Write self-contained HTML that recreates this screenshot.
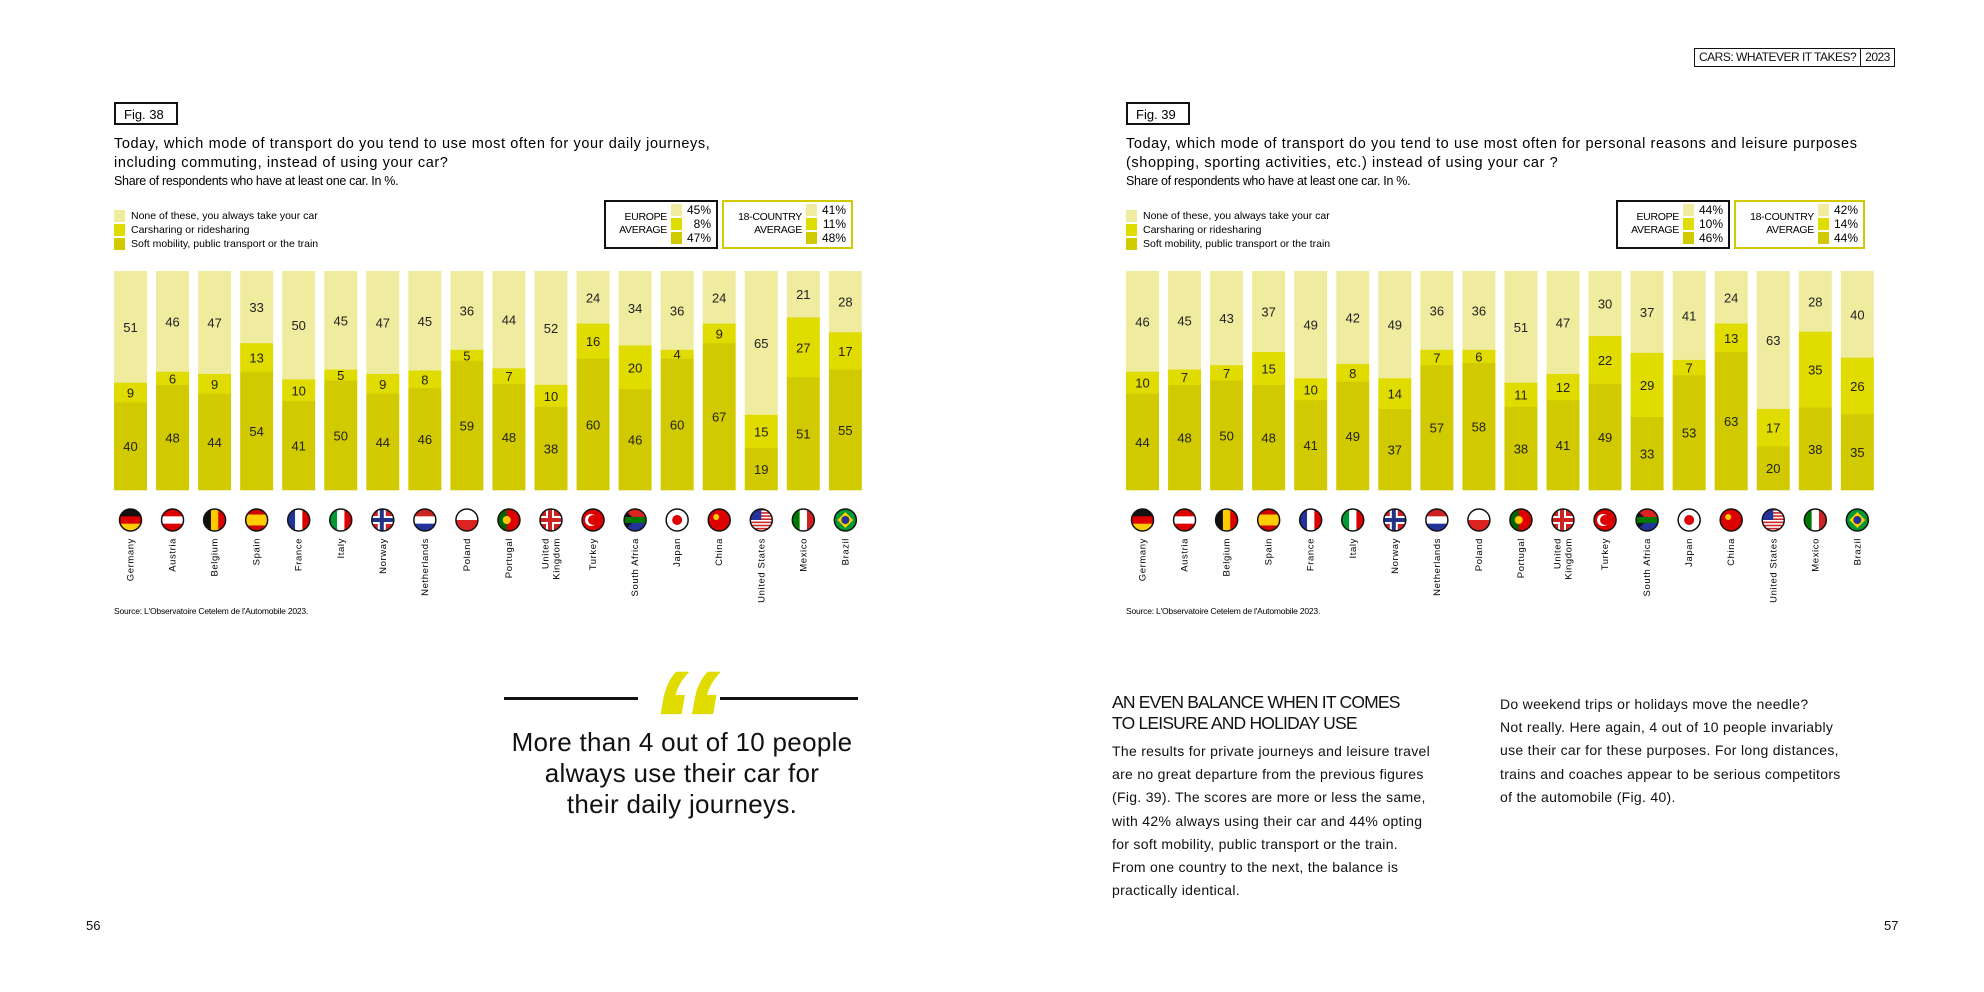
<!DOCTYPE html>
<html><head><meta charset="utf-8">
<style>
body{margin:0;width:1984px;height:992px;background:#fff;position:relative;overflow:hidden;font-family:"Liberation Sans",sans-serif;color:#111}
.abs{position:absolute}
.quote{font-size:26px;line-height:31px;text-align:center;letter-spacing:0.3px}
.head{font-size:17.5px;line-height:21px;letter-spacing:-0.8px;text-transform:uppercase}
.body{font-size:14px;line-height:23.2px;letter-spacing:0.3px;white-space:nowrap}
</style></head><body>
<div class="abs" style="left:1694px;top:48px;height:17px;border:1.5px solid #111;font-size:12px;line-height:17px;letter-spacing:-0.5px;display:flex">
<span style="padding:0 4px;border-right:1.5px solid #111">CARS: WHATEVER IT TAKES?</span><span style="padding:0 4px">2023</span></div>
<div class="abs" style="left:86px;top:918px;font-size:13px">56</div>
<div class="abs" style="left:1884px;top:918px;font-size:13px">57</div>

<svg id="chart" class="abs" style="left:0;top:0" width="1984" height="992"></svg>

<div class="abs" style="left:504px;top:697px;width:134px;height:3px;background:#111"></div>
<div class="abs" style="left:720px;top:697px;width:138px;height:3px;background:#111"></div>
<div class="abs" style="left:648px;top:648px;font-size:150px;line-height:150px;font-weight:bold;color:#e0dc00;font-family:'Liberation Sans',sans-serif;transform:skewX(-10deg)">“</div>
<div class="abs quote" style="left:482px;top:727px;width:400px">More than 4 out of 10 people<br>always use their car for<br>their daily journeys.</div>

<div class="abs head" style="left:1112px;top:692px;width:340px">An even balance when it comes<br>to leisure and holiday use</div>
<div class="abs body" style="left:1112px;top:740px">The results for private journeys and leisure travel<br>are no great departure from the previous figures<br>(Fig. 39). The scores are more or less the same,<br>with 42% always using their car and 44% opting<br>for soft mobility, public transport or the train.<br>From one country to the next, the balance is<br>practically identical.</div>
<div class="abs body" style="left:1500px;top:693px">Do weekend trips or holidays move the needle?<br>Not really. Here again, 4 out of 10 people invariably<br>use their car for these purposes. For long distances,<br>trains and coaches appear to be serious competitors<br>of the automobile (Fig. 40).</div>

<script>
const countries=["Germany","Austria","Belgium","Spain","France","Italy","Norway","Netherlands","Poland","Portugal","United Kingdom","Turkey","South Africa","Japan","China","United States","Mexico","Brazil"];
const fig38None=[51,46,47,33,50,45,47,45,36,44,52,24,34,36,24,65,21,28];
const fig38Share=[9,6,9,13,10,5,9,8,5,7,10,16,20,4,9,15,27,17];
const fig38Soft=[40,48,44,54,41,50,44,46,59,48,38,60,46,60,67,19,51,55];
const fig39None=[46,45,43,37,49,42,49,36,36,51,47,30,37,41,24,63,28,40];
const fig39Share=[10,7,7,15,10,8,14,7,6,11,12,22,29,7,13,17,35,26];
const fig39Soft=[44,48,50,48,41,49,37,57,58,38,41,49,33,53,63,20,38,35];
const fig38Europe=[45,8,47], fig38All=[41,11,48];
const fig39Europe=[44,10,46], fig39All=[42,14,44];
const C=["#efeb9f","#e1dc00","#d2ca00"];
const svg=document.getElementById('chart');
const NS="http://www.w3.org/2000/svg";
function mk(t,a,parent){const e=document.createElementNS(NS,t);for(const k in a)e.setAttribute(k,a[k]);(parent||svg).appendChild(e);return e;}
const flags={
Germany:[["h","#111","#d00","#fc0"]],Austria:[["h","#d00","#fff","#d00"]],Belgium:[["v","#111","#fc0","#d00"]],Spain:[["h3","#c00","#fc0","#c00"]],
France:[["v","#239","#fff","#d00"]],Italy:[["v","#093","#fff","#d00"]],Norway:[["cross","#c22","#fff","#238"]],Netherlands:[["h","#c22","#fff","#239"]],
Poland:[["h2","#fff","#d22"]],Portugal:[["pt","#060","#d00"]],"United Kingdom":[["cross","#c22","#fff","#c22"]],Turkey:[["tr","#d00","#fff"]],
"South Africa":[["za","#070","#fc0"]],Japan:[["jp","#fff","#d00"]],China:[["cn","#d00","#fc0"]],"United States":[["us","#c22","#fff","#239"]],
Mexico:[["v","#070","#fff","#c22"]],Brazil:[["br","#093","#fc0"]]};
let cid=0;
function drawFlag(cx,cy,r,name){
  const id='c'+(cid++);
  const d=mk('defs',{});const cp=mk('clipPath',{id:id},d);mk('circle',{cx:cx,cy:cy,r:r},cp);
  const g=mk('g',{'clip-path':'url(#'+id+')'});
  
  
  const f=flags[name][0],x=cx-r,y=cy-r,s=2*r;
  const t=f[0];
  if(t=="h"){for(let i=0;i<3;i++)mk('rect',{x:x,y:y+i*s/3,width:s,height:s/3+0.5,fill:f[i+1]},g);}
  else if(t=="v"){for(let i=0;i<3;i++)mk('rect',{x:x+i*s/3,y:y,width:s/3+0.5,height:s,fill:f[i+1]},g);}
  else if(t=="h3"){mk('rect',{x:x,y:y,width:s,height:s,fill:f[1]},g);mk('rect',{x:x,y:y+s/4,width:s,height:s/2,fill:f[2]},g);}
  else if(t=="h2"){mk('rect',{x:x,y:y,width:s,height:s,fill:f[1]},g);mk('rect',{x:x,y:cy,width:s,height:r,fill:f[2]},g);}
  else if(t=="cross"){mk('rect',{x:x,y:y,width:s,height:s,fill:f[1]},g);mk('rect',{x:x,y:cy-4,width:s,height:8,fill:f[2]},g);mk('rect',{x:cx-5,y:y,width:8,height:s,fill:f[2]},g);mk('rect',{x:x,y:cy-2,width:s,height:4,fill:f[3]},g);mk('rect',{x:cx-3,y:y,width:4,height:s,fill:f[3]},g);}
  else if(t=="pt"){mk('rect',{x:x,y:y,width:s,height:s,fill:f[2]},g);mk('rect',{x:x,y:y,width:s*0.4,height:s,fill:f[1]},g);mk('circle',{cx:x+s*0.4,cy:cy,r:4,fill:"#fc0"},g);}
  else if(t=="tr"){mk('rect',{x:x,y:y,width:s,height:s,fill:f[1]},g);mk('circle',{cx:cx-2,cy:cy,r:6,fill:f[2]},g);mk('circle',{cx:cx,cy:cy,r:5,fill:f[1]},g);}
  else if(t=="za"){mk('rect',{x:x,y:y,width:s,height:s/2,fill:"#d22"},g);mk('rect',{x:x,y:cy,width:s,height:r,fill:"#239"},g);mk('polygon',{points:`${x},${y} ${cx},${cy} ${x},${y+s} `,fill:"#111"},g);mk('rect',{x:x,y:cy-3,width:s,height:6,fill:f[1]},g);}
  else if(t=="jp"){mk('rect',{x:x,y:y,width:s,height:s,fill:f[1]},g);mk('circle',{cx:cx,cy:cy,r:5,fill:f[2]},g);}
  else if(t=="cn"){mk('rect',{x:x,y:y,width:s,height:s,fill:f[1]},g);mk('circle',{cx:cx-3,cy:cy-3,r:3,fill:f[2]},g);}
  else if(t=="us"){for(let i=0;i<7;i++)mk('rect',{x:x,y:y+i*s/7,width:s,height:s/14,fill:f[1]},g);mk('rect',{x:x,y:y,width:s/2,height:s/2,fill:f[3]},g);}
  else if(t=="br"){mk('rect',{x:x,y:y,width:s,height:s,fill:f[1]},g);mk('polygon',{points:`${cx},${y+3} ${x+s-3},${cy} ${cx},${y+s-3} ${x+3},${cy}`,fill:f[2]},g);mk('circle',{cx:cx,cy:cy,r:4,fill:"#239"},g);}
  mk('circle',{cx:cx,cy:cy,r:r,fill:'none',stroke:'#111','stroke-width':1.5});
}
function text(x,y,str,attrs){const t=mk('text',Object.assign({x:x,y:y,'font-family':'Liberation Sans, sans-serif'},attrs||{}));t.textContent=str;return t;}

function drawFigure(ox,num,titleLines,none,share,soft,eu,all){
  const L=ox+114, pitch=42.05, bw=33, top=271, bot=490, H=bot-top;
  const fx=(i)=>L+i*pitch;
  const fb=mk('rect',{x:ox+115,y:103,width:62,height:21,fill:'none',stroke:'#111','stroke-width':2});
  
  
  text(ox+124,119,'Fig. '+num,{'font-size':13});
  titleLines.forEach((l,i)=>{const t=text(ox+114,148+i*19,l,{'font-size':14.5,'letter-spacing':0.6});});
  const st=text(ox+114,185,'Share of respondents who have at least one car. In %.',{'font-size':12.5,'letter-spacing':-0.3});
  
  
  const legs=['None of these, you always take your car','Carsharing or ridesharing','Soft mobility, public transport or the train'];
  legs.forEach((l,i)=>{
    const r=mk('rect',{x:ox+114,y:210+i*14,width:11,height:12,fill:C[i]});
    
    
    const t=text(ox+131,219+i*14,l,{'font-size':10.5});
    
    
  });
  const boxes=[[ox+605,112,['EUROPE','AVERAGE'],eu,'#111'],[ox+723,129,['18-COUNTRY','AVERAGE'],all,'#d2ca00']];
  boxes.forEach(b=>{
    const r=mk('rect',{x:b[0],y:201,width:b[1],height:47,fill:'none',stroke:b[4],'stroke-width':2});
    
    
    const sx=b[0]+b[1]-46;
    text(sx-4,220,b[2][0],{'font-size':10.5,'text-anchor':'end','letter-spacing':-0.3});
    text(sx-4,233,b[2][1],{'font-size':10.5,'text-anchor':'end','letter-spacing':-0.3});
    b[3].forEach((v,i)=>{mk('rect',{x:sx,y:204+i*14,width:11,height:12,fill:C[i]});text(sx+40,214+i*14,v+'%',{'font-size':12,'text-anchor':'end'});});
  });
  countries.forEach((c,i)=>{
    const vals=[none[i],share[i],soft[i]];const sum=vals[0]+vals[1]+vals[2];
    let y=top;const x=fx(i);
    vals.forEach((v,k)=>{
      const h=v/sum*H;
      const r=mk('rect',{x:x,y:y,width:bw,height:h+0.3,fill:C[k]});
      
      
      text(x+bw/2,y+h/2+5,v,{'font-size':13,'text-anchor':'middle',fill:'#222'});
      y+=h;
    });
    drawFlag(x+bw/2,520,11,c);
    const parts=c=="United Kingdom"?["United","Kingdom"]:[c];
    parts.forEach((p,j)=>{
      const xx=x+bw/2+3+(j-(parts.length-1)/2)*11;
      const t=text(xx,538,p,{'font-size':9.5,'text-anchor':'end','letter-spacing':0.6,transform:`rotate(-90 ${xx} 538)`});
      
      
    });
  });
  const s=text(ox+114,614,"Source: L'Observatoire Cetelem de l'Automobile 2023.",{'font-size':8.5,'letter-spacing':-0.2});
  
  
}
drawFigure(0,38,['Today, which mode of transport do you tend to use most often for your daily journeys,','including commuting, instead of using your car?'],fig38None,fig38Share,fig38Soft,fig38Europe,fig38All);
drawFigure(1012,39,['Today, which mode of transport do you tend to use most often for personal reasons and leisure purposes','(shopping, sporting activities, etc.) instead of using your car ?'],fig39None,fig39Share,fig39Soft,fig39Europe,fig39All);
</script>
</body></html>
